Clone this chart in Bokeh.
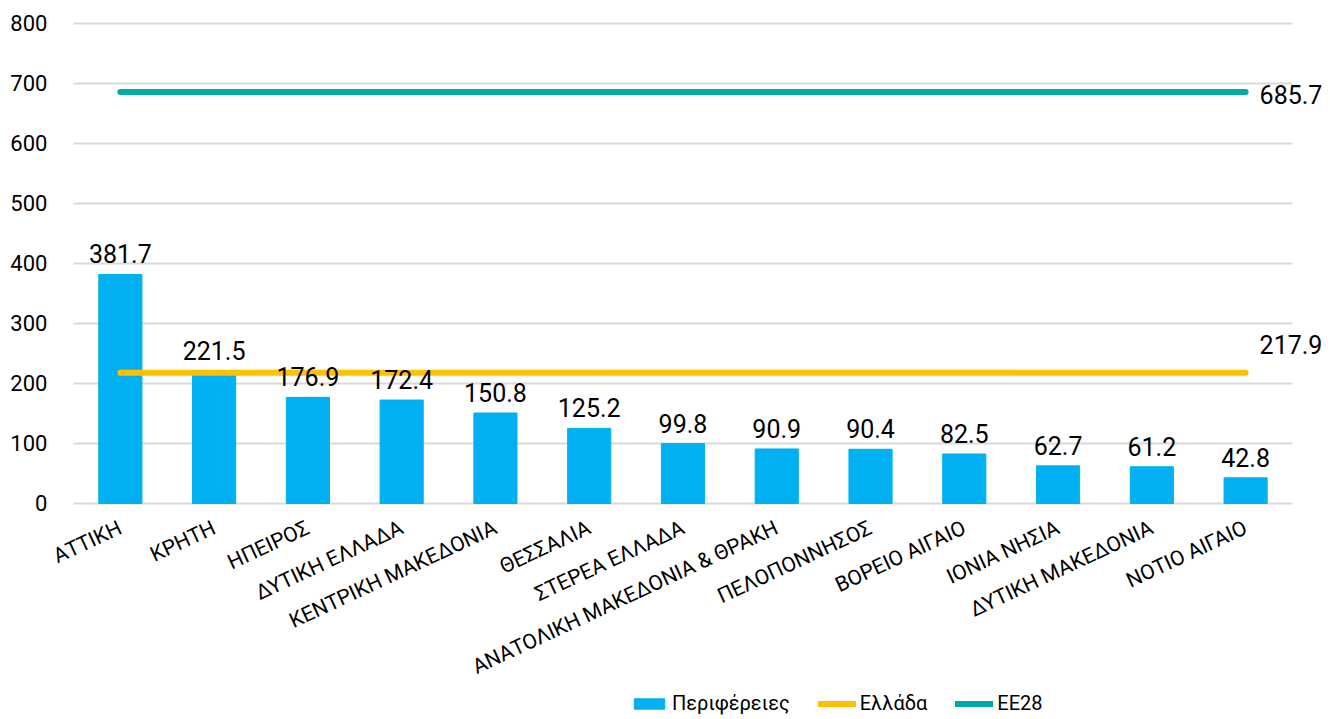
from bokeh.plotting import figure
from bokeh.models import ColumnDataSource, FixedTicker, Range1d, Legend, LegendItem, Label, LabelSet
from bokeh.core.properties import value
from bokeh.embed import file_html
from bokeh.resources import INLINE
import math

regions = ["ΑΤΤΙΚΗ", "ΚΡΗΤΗ", "ΗΠΕΙΡΟΣ", "ΔΥΤΙΚΗ ΕΛΛΑΔΑ", "ΚΕΝΤΡΙΚΗ ΜΑΚΕΔΟΝΙΑ",
           "ΘΕΣΣΑΛΙΑ", "ΣΤΕΡΕΑ ΕΛΛΑΔΑ", "ΑΝΑΤΟΛΙΚΗ ΜΑΚΕΔΟΝΙΑ & ΘΡΑΚΗ", "ΠΕΛΟΠΟΝΝΗΣΟΣ",
           "ΒΟΡΕΙΟ ΑΙΓΑΙΟ", "ΙΟΝΙΑ ΝΗΣΙΑ", "ΔΥΤΙΚΗ ΜΑΚΕΔΟΝΙΑ", "ΝΟΤΙΟ ΑΙΓΑΙΟ"]
values = [381.7, 221.5, 176.9, 172.4, 150.8, 125.2, 99.8, 90.9, 90.4, 82.5, 62.7, 61.2, 42.8]
greece = 217.9
eu28 = 685.7
y_ticks = [0, 100, 200, 300, 400, 500, 600, 700, 800]

FONT = "Roboto"
n = len(regions)
xs = list(range(n))
labels_txt = [f"{v:.1f}" for v in values]
src = ColumnDataSource(dict(x=xs, v=values, t=labels_txt))

# the frame spans the whole page so axes labels and legend are drawn inside it
p = figure(frame_width=1322, frame_height=716, output_backend="svg", toolbar_location=None,
           x_range=Range1d(-1.278, n - 0.5 + 0.32), y_range=Range1d(-355, 838.3),
           min_border_left=0, min_border_right=0, min_border_top=0, min_border_bottom=0)
p.outline_line_color = None
p.xgrid.visible = False
p.ygrid.visible = False

# horizontal gridlines over the category area only
p.segment(x0=-0.5, x1=n - 0.5, y0=y_ticks, y1=y_ticks, line_color="#D9D9D9", line_width=2)

bars = p.vbar(x="x", top="v", width=0.46, source=src, color="#00B0F0")
gl = p.line(x=[xs[0], xs[-1]], y=[greece, greece], line_color="#FFC000", line_width=6, line_cap="round")
el = p.line(x=[xs[0], xs[-1]], y=[eu28, eu28], line_color="#00ABA7", line_width=6, line_cap="round")

ls = LabelSet(x="x", y="v", text="t", source=src, text_align="center", text_baseline="bottom",
              y_offset=11, text_font=value(FONT), text_font_size=value("25px"), text_color=value("#000000"))
p.add_layout(ls)

p.add_layout(Label(x=xs[-1], y=eu28, text=f"{eu28:.1f}", x_offset=14, y_offset=-2, text_baseline="middle",
                   text_font=FONT, text_font_size="25px", text_color="#000000"))
p.add_layout(Label(x=xs[-1], y=greece, text=f"{greece:.1f}", x_offset=14, y_offset=28, text_baseline="middle",
                   text_font=FONT, text_font_size="25px", text_color="#000000"))

p.yaxis.fixed_location = -0.5
p.yaxis.ticker = FixedTicker(ticks=y_ticks)
p.yaxis.axis_line_color = None
p.yaxis.major_tick_line_color = None
p.yaxis.minor_tick_line_color = None
p.yaxis.major_label_standoff = 20
p.yaxis.major_label_text_font = FONT
p.yaxis.major_label_text_font_size = "22px"
p.yaxis.major_label_text_color = "#000000"

p.xaxis.fixed_location = -5
p.xaxis.ticker = FixedTicker(ticks=xs)
p.xaxis.major_label_overrides = {i: r for i, r in enumerate(regions)}
p.xaxis.major_label_orientation = math.radians(25)
p.xaxis.axis_line_color = None
p.xaxis.major_tick_line_color = None
p.xaxis.minor_tick_line_color = None
p.xaxis.major_label_standoff = 14
p.xaxis.major_label_text_font = FONT
p.xaxis.major_label_text_font_size = "21px"
p.xaxis.major_label_text_color = "#000000"

legend = Legend(items=[LegendItem(label="Περιφέρειες", renderers=[bars]),
                       LegendItem(label="Ελλάδα", renderers=[gl]),
                       LegendItem(label="EE28", renderers=[el])],
                orientation="horizontal", location=(630, 1), border_line_color=None,
                background_fill_alpha=0, glyph_width=38, glyph_height=13, spacing=28,
                label_text_font=FONT, label_text_font_size="20px", label_text_color="#000000",
                label_standoff=4, padding=2, margin=0)
p.add_layout(legend, "center")

open("out.html", "w").write(file_html(p, INLINE))
